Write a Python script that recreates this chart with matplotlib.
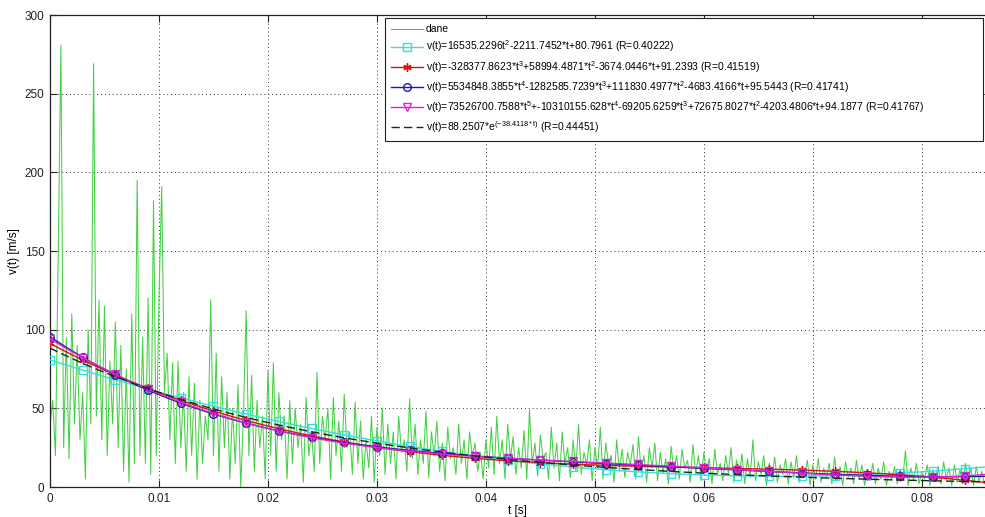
import numpy as np
import matplotlib
matplotlib.use("Agg")
import matplotlib.pyplot as plt

plt.rcParams['font.family'] = ['Liberation Sans', 'DejaVu Sans']
plt.rcParams['mathtext.fontset'] = 'custom'
plt.rcParams['mathtext.rm'] = 'Liberation Sans'
plt.rcParams['mathtext.it'] = 'Liberation Sans:italic'
plt.rcParams['mathtext.bf'] = 'Liberation Sans:bold'

# ---- measured data (sampled every t_step seconds) ----
t_step = 0.00025
v_data = [
    40, 55, 20, 146, 281, 25, 95, 18, 110, 40, 90, 30, 60, 5, 100, 40,
    269, 45, 119, 30, 115, 20, 80, 40, 105, 25, 90, 10, 75, 3, 110, 15,
    195, 20, 95, 15, 120, 8, 182, 20, 120, 191, 60, 85, 30, 79, 15, 80,
    25, 60, 10, 70, 20, 66, 5, 55, 15, 45, 30, 119, 20, 85, 10, 70,
    25, 60, 5, 50, 15, 65, 0, 45, 112, 20, 71, 10, 55, 25, 45, 5,
    74, 20, 79, 10, 60, 30, 45, 5, 55, 15, 50, 25, 40, 3, 57, 20,
    35, 10, 73, 15, 45, 30, 50, 5, 57, 20, 42, 10, 59, 25, 35, 8,
    54, 15, 42, 5, 30, 12, 45, 3, 38, 20, 50, 8, 40, 15, 35, 5,
    45, 22, 30, 10, 56, 18, 40, 8, 30, 15, 48, 6, 35, 20, 42, 10,
    28, 4, 38, 18, 25, 8, 40, 15, 30, 5, 35, 20, 28, 10, 22, 5,
    30, 12, 38, 8, 45, 15, 30, 5, 40, 18, 32, 8, 25, 12, 36, 5,
    49, 15, 28, 7, 33, 18, 22, 5, 38, 12, 28, 4, 35, 15, 25, 6,
    30, 10, 40, 8, 22, 14, 30, 4, 25, 12, 38, 5, 28, 15, 20, 3,
    30, 10, 24, 6, 22, 14, 27, 5, 32, 10, 20, 3, 25, 12, 28, 4,
    22, 9, 18, 2, 26, 10, 20, 5, 24, 12, 17, 3, 27, 8, 20, 4,
    22, 10, 18, 2, 24, 8, 15, 4, 20, 9, 25, 3, 17, 7, 21, 2,
    18, 6, 30, 4, 16, 8, 20, 1, 15, 6, 19, 3, 14, 8, 18, 2,
    16, 6, 20, 3, 13, 7, 17, 1, 14, 5, 18, 3, 12, 6, 15, 2,
    19, 4, 13, 1, 16, 6, 12, 2, 17, 5, 14, 1, 11, 4, 15, 2,
    12, 5, 16, 1, 10, 4, 13, 2, 11, 5, 23, 1, 12, 4, 15, 2,
    10, 5, 14, 1, 11, 4, 13, 2, 16, 5, 12, 1, 14, 3, 11, 2,
    15, 4, 12, 1, 13, 3, 10, 2, 8,
]

# ---- fitted models (coefficients as printed in the legend) ----
quad_coef = [16535.2296, -2211.7452, 80.7961]
cubic_coef = [-328377.8623, 58994.4871, -3674.0446, 91.2393]
quart_coef = [5534848.3855, -1282585.7239, 111830.4977, -4683.4166, 95.5443]
quint_coef = [73526700.7588, -10310155.628, -69205.6259, 72675.8027, -4203.4806, 94.1877]
exp_amp = 88.2507
exp_rate = -38.4118

labels = [
    "dane",
    "v(t)=16535.2296t$^{2}$-2211.7452*t+80.7961 (R=0.40222)",
    "v(t)=-328377.8623*t$^{3}$+58994.4871*t$^{2}$-3674.0446*t+91.2393 (R=0.41519)",
    "v(t)=5534848.3855*t$^{4}$-1282585.7239*t$^{3}$+111830.4977*t$^{2}$-4683.4166*t+95.5443 (R=0.41741)",
    "v(t)=73526700.7588*t$^{5}$+-10310155.628*t$^{4}$-69205.6259*t$^{3}$+72675.8027*t$^{2}$-4203.4806*t+94.1877 (R=0.41767)",
    "v(t)=88.2507*e$^{\\mathrm{(-38.4118*t)}}$ (R=0.44451)",
]

x_ticks = [0, 0.01, 0.02, 0.03, 0.04, 0.05, 0.06, 0.07, 0.08]
x_tick_labels = ["0", "0.01", "0.02", "0.03", "0.04", "0.05", "0.06", "0.07", "0.08"]
y_ticks = [0, 50, 100, 150, 200, 250, 300]

t_data = np.arange(len(v_data)) * t_step
t_fit = np.linspace(0, 0.0858, 859)

fig = plt.figure(figsize=(9.85, 5.17), dpi=100)
ax = fig.add_axes([50 / 985, 30 / 517, 935 / 985, 472 / 517])

ax.plot(t_data, v_data, color='#44d044', lw=0.75, label=labels[0], zorder=2)
me = 30
ax.plot(t_fit, np.polyval(quad_coef, t_fit), color='#33e0e0', lw=1.0, marker='s',
        ms=5.5, mfc='none', mew=1.0, markevery=me, label=labels[1], zorder=3)
ax.plot(t_fit, np.polyval(cubic_coef, t_fit), color='#e01010', lw=1.0, marker=(6, 2, 0),
        ms=6, mew=1.0, markevery=me, label=labels[2], zorder=4)
ax.plot(t_fit, np.polyval(quart_coef, t_fit), color='#1a1aa0', lw=1.0, marker='o',
        ms=5.5, mfc='none', mew=1.0, markevery=me, label=labels[3], zorder=5)
ax.plot(t_fit, np.polyval(quint_coef, t_fit), color='#e020e0', lw=1.0, marker='v',
        ms=6, mfc='none', mew=1.0, markevery=me, label=labels[4], zorder=6)
ax.plot(t_fit, exp_amp * np.exp(exp_rate * t_fit), color='#222222', lw=1.0,
        ls=(0, (6, 3)), label=labels[5], zorder=7)

ax.set_xlim(0, 0.0858)
ax.set_ylim(0, 300)
ax.set_xticks(x_ticks)
ax.set_xticklabels(x_tick_labels)
ax.set_yticks(y_ticks)
ax.tick_params(direction='in', length=5, width=0.8, labelsize=8.5, top=True,
               colors='#222222', pad=4)
ax.grid(True, color='#333333', ls=(0, (1, 3)), lw=0.7)
for s in ['left', 'bottom', 'top']:
    ax.spines[s].set_linewidth(0.9)
    ax.spines[s].set_color('#222222')
ax.spines['right'].set_visible(False)

ax.set_xlabel("t [s]", fontsize=8.5, labelpad=0)
ax.set_ylabel("v(t) [m/s]", fontsize=8.5, labelpad=3)

leg_x0 = (385 - 50) / 935
leg_x1 = (983 - 50) / 935
leg_y1 = (487 - 18) / 472
leg_y0 = (487 - 143) / 472
leg = ax.legend(loc='upper left', fontsize=7.5, frameon=True, fancybox=False,
                edgecolor='#222222', framealpha=1, borderaxespad=0,
                bbox_to_anchor=(leg_x0, leg_y0, leg_x1 - leg_x0, leg_y1 - leg_y0),
                mode='expand', handlelength=3.0, handletextpad=0.3,
                labelspacing=0.42, borderpad=0.6, numpoints=1)
leg.get_frame().set_linewidth(0.8)

fig.savefig("out.png", dpi=100)
